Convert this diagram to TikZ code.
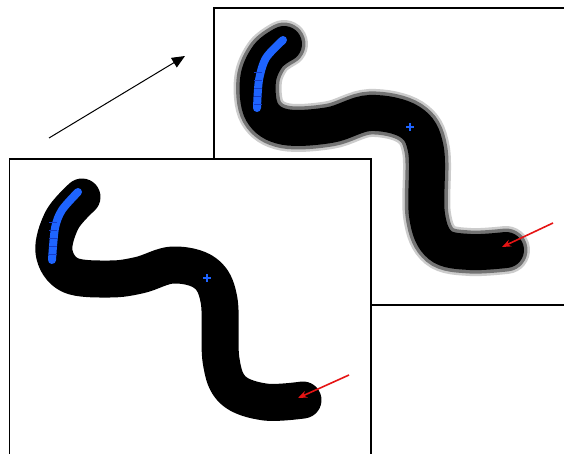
\documentclass[tikz,border=0pt]{standalone}
\usetikzlibrary{arrows.meta}
\begin{document}
\begin{tikzpicture}[x=1pt,y=-1pt,
  panel/.style={draw=black,fill=white,line width=1.1pt},
  worm/.style={line width=37pt,line cap=round,line join=round},
  blueline/.style={draw={rgb,255:red,30;green,100;blue,255},line width=8pt,line cap=round},
  bluetick/.style={draw={rgb,255:red,20;green,60;blue,200},line width=0.8pt},
  redarrow/.style={draw={rgb,255:red,230;green,20;blue,20},line width=1.6pt,-{Stealth[length=9pt,width=7pt]}},
  plusmark/.style={draw={rgb,255:red,30;green,100;blue,255},line width=1.2pt}]
\useasboundingbox (0,0) rectangle (564,454);
% back panel
\path[panel] (214,8) rectangle (580,305);
\foreach \w/\c in {48/black!20,43/black!55,36/black} {
  \draw[\c,line width=\w pt,line cap=round,line join=miter] plot[smooth,tension=0.6] coordinates {(284,44) (268,56) (258,80) (262,112) (285,127) (330,125) (370,113) (410,122) (426,150) (427,215) (440,245) (470,252) (506,250)};
}
\draw[blueline] plot[smooth] coordinates {(283,40) (266,58) (259,80) (257,108)};
\foreach \y in {72,80,88,96,104} \draw[bluetick] (254,\y) -- (262,\y);
\draw[plusmark] (406,127) -- (414,127) (410,123) -- (410,131);
\coordinate (bs) at (553,223); \coordinate (be) at (502,247);
\draw[redarrow] (bs) -- (be);
% front panel
\path[panel] (9.5,159) rectangle (371,470);
\draw[worm] plot[smooth,tension=0.6] coordinates {(82,197) (62,220) (54,252) (70,275) (110,279) (140,275) (173,265) (205,273) (219,300) (221,360) (233,390) (265,402) (303,400)};
\draw[blueline] plot[smooth] coordinates {(78,192) (62,210) (55,228) (52,260)};
\foreach \y in {222,230,238,246,254} \draw[bluetick] (49,\y) -- (57,\y);
\draw[plusmark] (203,278) -- (211,278) (207,274) -- (207,282);
\coordinate (fs) at (349,375); \coordinate (fe) at (298,398);
\draw[redarrow] (fs) -- (fe);
% connector
\coordinate (a) at (49,138); \coordinate (b) at (185,56);
\draw[line width=1pt,-{Triangle[length=13pt,width=11pt]}] (a) -- (b);
\end{tikzpicture}
\end{document}
